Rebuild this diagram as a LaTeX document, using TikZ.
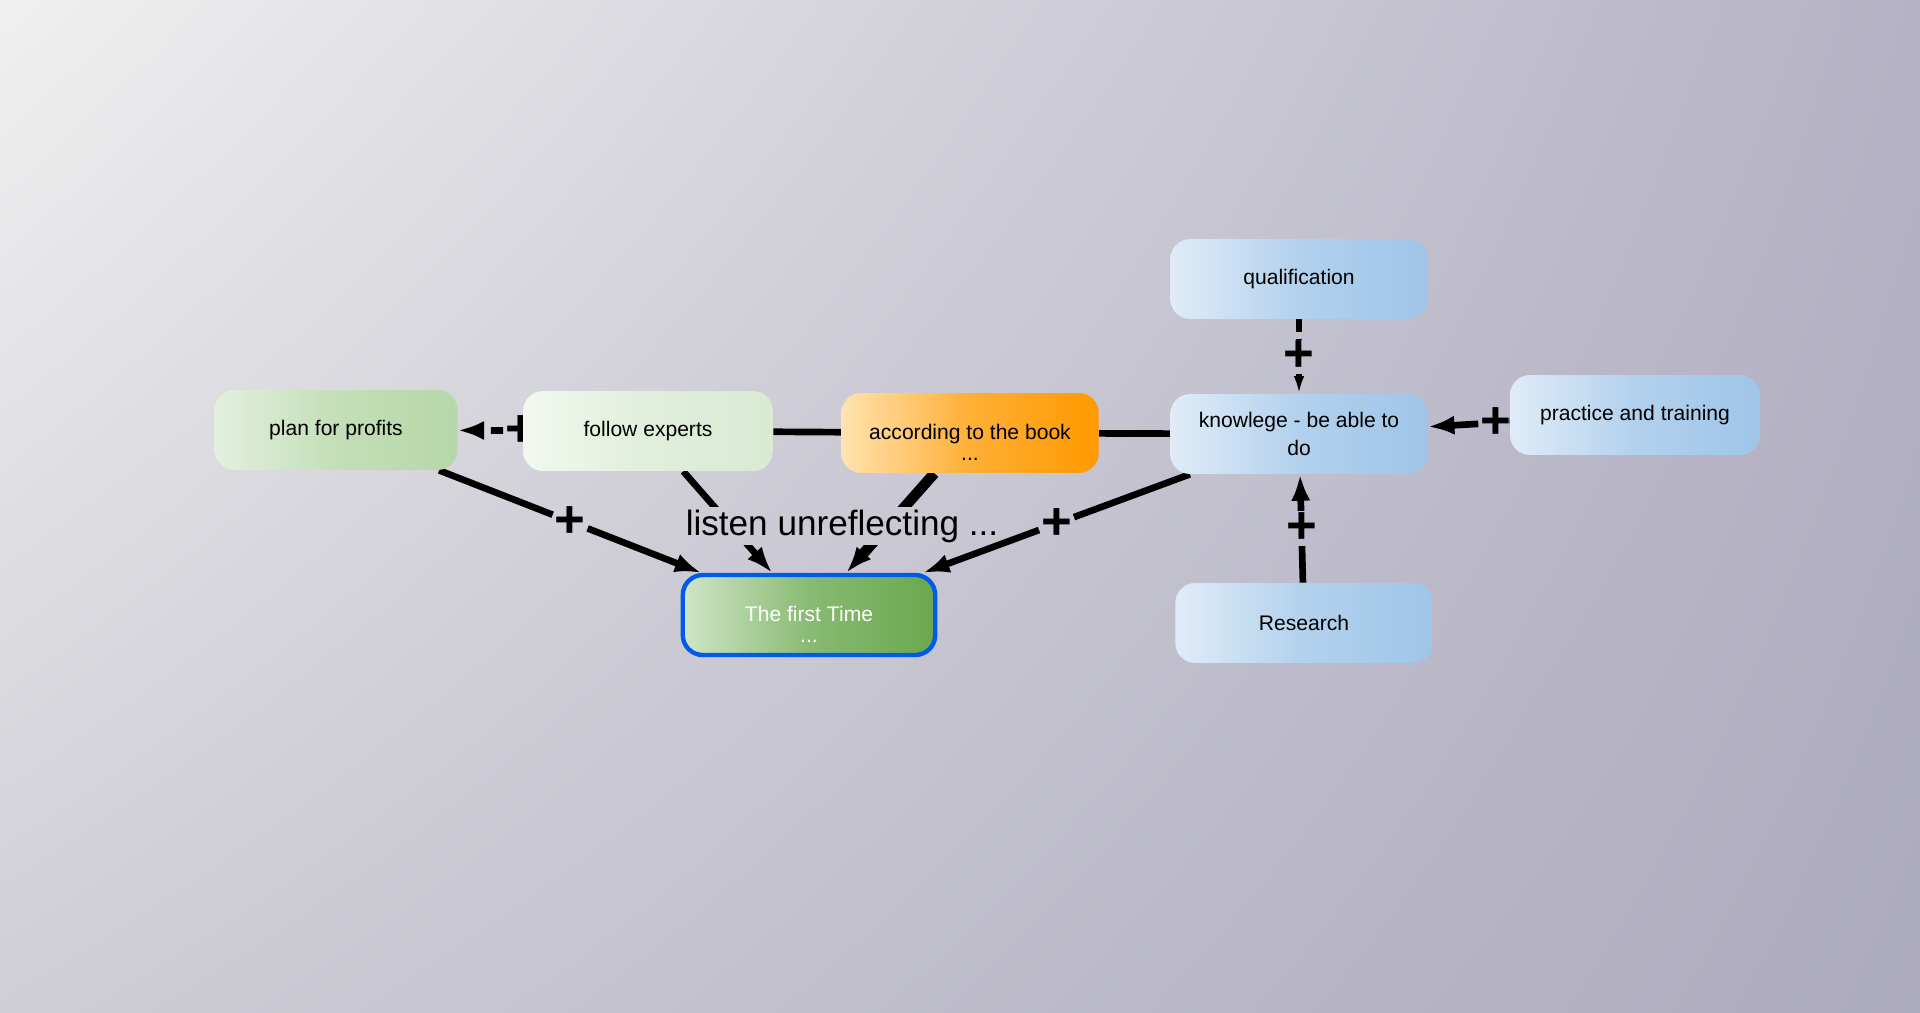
\documentclass[tikz,border=0pt]{standalone}
\usepackage{fontspec}
\setmainfont{Liberation Sans}
\usetikzlibrary{arrows.meta,shadings}

\definecolor{bgA}{HTML}{F0F0F0}
\definecolor{bgB}{HTML}{B4B2C4}
\definecolor{bgC}{HTML}{CFCED6}
\definecolor{bgD}{HTML}{ACAABD}
\definecolor{greenA}{HTML}{E3F0DD}
\definecolor{greenB}{HTML}{B6D7A8}
\definecolor{paleA}{HTML}{F2F8EF}
\definecolor{paleB}{HTML}{D9EAD3}
\definecolor{orangeA}{HTML}{FFE3B0}
\definecolor{orangeB}{HTML}{FF9900}
\definecolor{blueA}{HTML}{E0ECF8}
\definecolor{blueB}{HTML}{9FC5E8}
\definecolor{firstA}{HTML}{D0E5C7}
\definecolor{firstB}{HTML}{6AA84F}
\definecolor{focusblue}{HTML}{005CE6}

\pgfdeclarelayer{back}
\pgfdeclarelayer{edges}
\pgfsetlayers{back,edges,main}

% the grey backdrop, also used to cut the label out of the lines
\newcommand\paintbg{\shade[upper left=bgA, upper right=bgB, lower left=bgC, lower right=bgD] (cTL) rectangle (cBR);}
% first line pushed down a little, for the boxes with dots
\newcommand\lowline{\rule{0pt}{19pt}}

\begin{document}
\begin{tikzpicture}[x=0.02cm,y=-0.02cm,
  concept/.style={rounded corners=0.4cm, minimum width=5.15cm, minimum height=1.6cm,
    align=center, inner sep=2pt, font=\fontsize{12}{15}\selectfont},
  greenbox/.style={left color=greenA, right color=greenB, middle color=greenB!70!greenA},
  palebox/.style={left color=paleA, right color=paleB, middle color=paleB!70!paleA},
  orangebox/.style={left color=orangeA, right color=orangeB, middle color=orangeB!70!orangeA},
  bluebox/.style={left color=blueA, right color=blueB, middle color=blueB!70!blueA},
  focusbox/.style={left color=firstA, right color=firstB, middle color=firstB!70!firstA,
    draw=focusblue, line width=2.5pt, text=white},
  link/.style={line width=3.8pt},
  tolink/.style={link, -{Latex[length=15pt,width=11pt]}},
  plusmark/.style={font=\fontsize{30}{30}\selectfont\bfseries, inner sep=1pt},
  linklabel/.style={font=\fontsize{20}{22}\selectfont, inner sep=1pt, path picture={\paintbg}}]

  % draw the backdrop
  \coordinate (cTL) at (0,0);
  \coordinate (cBR) at (1920,1013);
  \begin{pgfonlayer}{back}
    \paintbg
  \end{pgfonlayer}
  \useasboundingbox (cTL) rectangle (cBR);

  % draw the concepts
  \node[concept, greenbox, minimum width=4.86cm] (plan) at (336,430) {plan for profits};
  \node[concept, palebox, minimum width=5cm] (experts) at (648,431) {follow experts};
  \node[concept, orangebox] (book) at (970,433) {\lowline according to the book\\[-3pt]...};
  \node[concept, bluebox] (know) at (1299,434) {knowlege - be able to\\[1pt]do};
  \node[concept, bluebox] (qual) at (1299,279) {qualification};
  \node[concept, bluebox, minimum width=5cm] (practice) at (1635,415) {practice and training};
  \node[concept, bluebox] (research) at (1304,623) {Research};
  \node[concept, focusbox, minimum width=5.05cm] (first) at (809,615) {\lowline The first Time\\[-3pt]...};

  \begin{pgfonlayer}{edges}
    % plain lines between concepts
    \draw[link] (experts) -- (book);
    \draw[link] (book) -- (know);

    % lines running under the label
    \draw[tolink] (experts) -- (first);
    \draw[tolink, line width=6pt] (book) -- (first);
    \node[linklabel] (listen) at (842,526) {listen unreflecting ...};

    % links broken by a plus
    \foreach \src/\dst/\where/\pname in {
      plan/first/0.5/p1,
      know/first/0.5/p2,
      research/know/0.5/p3,
      practice/know/0.17/p4} {
        \path (\src) -- node[plusmark, pos=\where] (\pname) {+} (\dst);
        \draw[link] (\src) -- (\pname);
        \draw[tolink] (\pname) -- (\dst);
    }

    % dashed links
    \path (qual) -- node[plusmark] (p5) {+} (know);
    \draw[link, dash pattern=on 7pt off 4pt] (qual) -- (p5);
    \draw[link, dash pattern=on 7pt off 4pt, -{Latex[length=10pt,width=6pt]}] (p5) -- (know);
    \path (experts) -- node[plusmark, pos=0.03] (p6) {+} (plan);
    \draw[link] (experts) -- (p6);
    \draw[tolink, dash pattern=on 7pt off 4pt] (p6) -- (plan);
  \end{pgfonlayer}

\end{tikzpicture}
\end{document}
